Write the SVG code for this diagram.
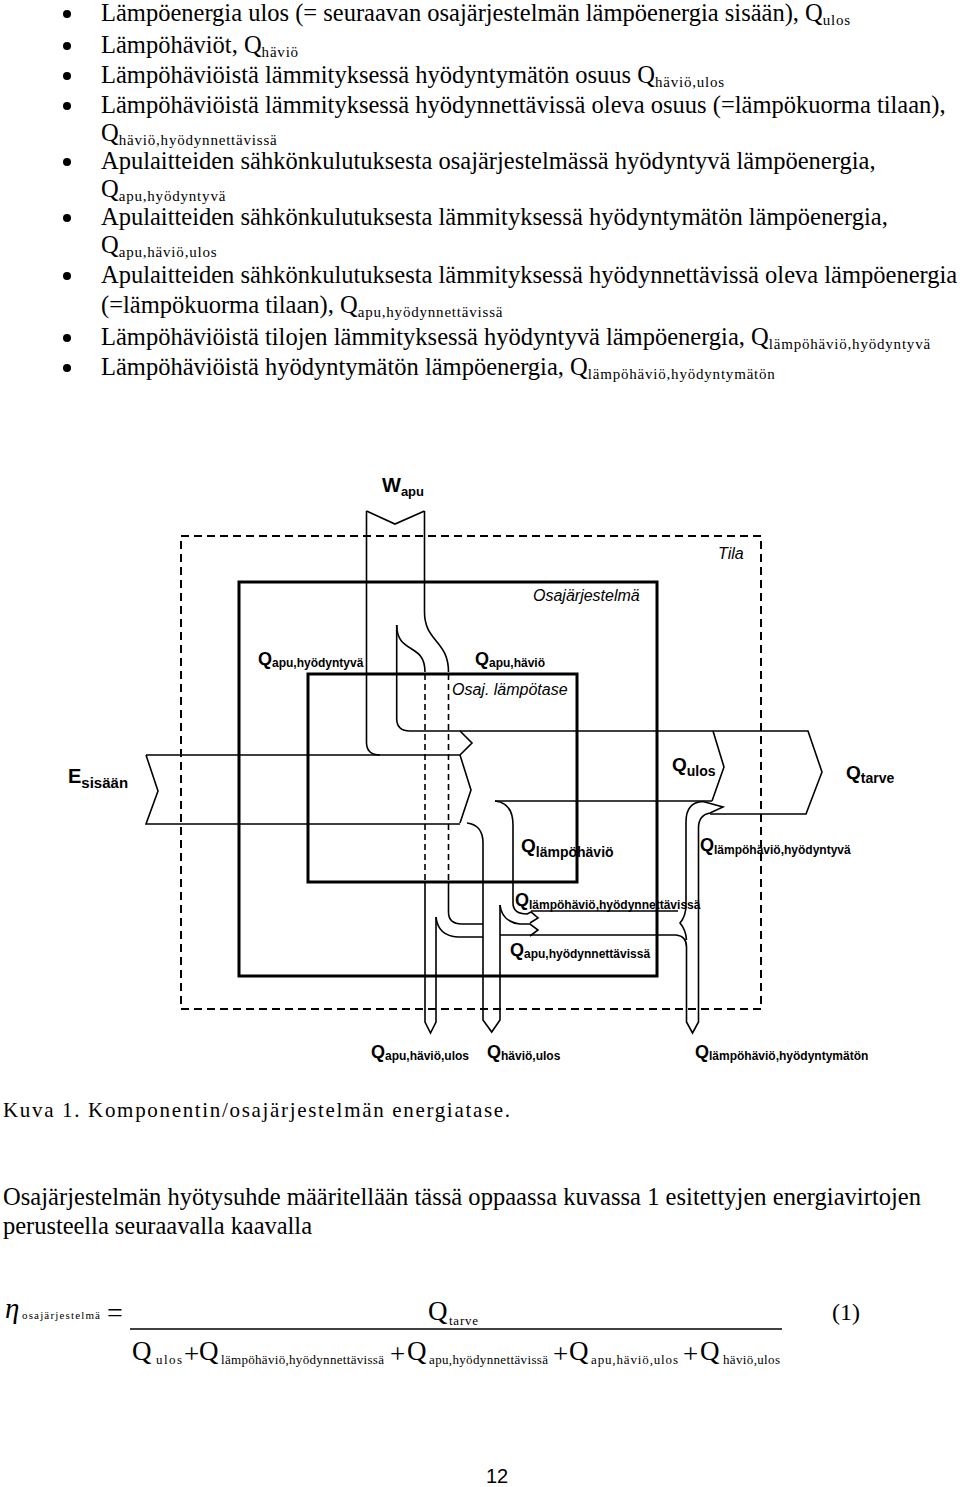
<svg xmlns="http://www.w3.org/2000/svg" width="960" height="1487" viewBox="0 0 960 1487">
<style>
.t{font-family:"Liberation Serif","Times New Roman",serif;font-size:24.5px;fill:#000}
.s{font-size:15px;letter-spacing:0.8px}
.b{font-family:"Liberation Sans",Arial,sans-serif;font-weight:bold;fill:#000}
.i{font-family:"Liberation Sans",Arial,sans-serif;font-style:italic;font-size:16px;fill:#000}
.e{font-family:"Liberation Serif","Times New Roman",serif;fill:#000}
.ln{fill:none;stroke:#000;stroke-width:1.6}
.bx{fill:none;stroke:#000;stroke-width:3}
.ds{fill:none;stroke:#000;stroke-width:2;stroke-dasharray:8 5}
.dl{fill:none;stroke:#000;stroke-width:1.6;stroke-dasharray:6 4}
</style>
<rect width="960" height="1487" fill="#fff"/>
<g id="bullets">
<circle cx="67" cy="14" r="4"/><circle cx="67" cy="46" r="4"/><circle cx="67" cy="76" r="4"/><circle cx="67" cy="106" r="4"/><circle cx="67" cy="162" r="4"/><circle cx="67" cy="218" r="4"/><circle cx="67" cy="276" r="4"/><circle cx="67" cy="338" r="4"/><circle cx="67" cy="368" r="4"/>
</g>
<g id="list" class="t">
<text x="101" y="21">Lämpöenergia ulos (= seuraavan osajärjestelmän lämpöenergia sisään), Q<tspan class="s" dy="4">ulos</tspan></text>
<text x="101" y="53">Lämpöhäviöt, Q<tspan class="s" dy="4">häviö</tspan></text>
<text x="101" y="83">Lämpöhäviöistä lämmityksessä hyödyntymätön osuus Q<tspan class="s" dy="4">häviö,ulos</tspan></text>
<text x="101" y="113">Lämpöhäviöistä lämmityksessä hyödynnettävissä oleva osuus (=lämpökuorma tilaan),</text>
<text x="101" y="141">Q<tspan class="s" dy="4">häviö,hyödynnettävissä</tspan></text>
<text x="101" y="169">Apulaitteiden sähkönkulutuksesta osajärjestelmässä hyödyntyvä lämpöenergia,</text>
<text x="101" y="197">Q<tspan class="s" dy="4">apu,hyödyntyvä</tspan></text>
<text x="101" y="225">Apulaitteiden sähkönkulutuksesta lämmityksessä hyödyntymätön lämpöenergia,</text>
<text x="101" y="253">Q<tspan class="s" dy="4">apu,häviö,ulos</tspan></text>
<text x="101" y="283">Apulaitteiden sähkönkulutuksesta lämmityksessä hyödynnettävissä oleva lämpöenergia</text>
<text x="101" y="313">(=lämpökuorma tilaan), Q<tspan class="s" dy="4">apu,hyödynnettävissä</tspan></text>
<text x="101" y="345">Lämpöhäviöistä tilojen lämmityksessä hyödyntyvä lämpöenergia, Q<tspan class="s" dy="4">lämpöhäviö,hyödyntyvä</tspan></text>
<text x="101" y="375">Lämpöhäviöistä hyödyntymätön lämpöenergia, Q<tspan class="s" dy="4">lämpöhäviö,hyödyntymätön</tspan></text>
</g>
<g id="tila">
<rect class="ds" x="181" y="536" width="580" height="473"/>
<text class="i" x="718" y="559">Tila</text>
</g>
<g id="osajarjestelma">
<rect class="bx" x="239" y="582" width="418" height="394"/>
<text class="i" x="533" y="601">Osajärjestelmä</text>
</g>
<g id="lampotase">
<rect class="bx" x="308" y="674" width="269" height="208"/>
<text class="i" x="452" y="695">Osaj. lämpötase</text>
</g>
<g id="connectors">
<path class="ln" d="M366.5,511 L395,524 L424.5,511"/>
<path class="ln" d="M366.5,511 V743 Q367,755 380,755"/>
<path class="ln" d="M424.5,511 V612 C424.5,642 448.5,640 448.5,672"/>
<path class="ln" d="M396.7,625 V719 Q397,731 410,731 H808 L822,772 L806,814 H710"/>
<path class="ln" d="M396.7,625 C397,655 425,642 425,672"/>
<path class="dl" d="M425,674 V882 M448.5,674 V882"/>
<path class="ln" d="M146,755 H460 M146,755 L158,791 L146,824 H460"/>
<path class="ln" d="M460,755 L471,790 L460,823"/>
<path class="ln" d="M460,731 L472,743 L460,755"/>
<path class="ln" d="M713,731 L724,767 L712,801"/>
<path class="ln" d="M495,801 H712"/>
<path class="ln" d="M467,823 Q483,825 483,843 V1020 L491.7,1032 L500,1020 V905"/>
<path class="ln" d="M495,801 Q513,803 513,825 V903 Q513,914 527,914 L531,912 L538,918 L530,923"/>
<path class="ln" d="M500,905 Q502,922 520,924 H530 L538,930 L530,936"/>
<path class="ln" d="M425,882 V1022 L430.5,1033 L436,1022 V917"/>
<path class="ln" d="M436,917 Q438,936 458,937 H483"/>
<path class="ln" d="M448.5,882 V912 Q448.5,924 462,924 H483"/>
<path class="ln" d="M531,911 H678"/>
<path class="ln" d="M500,935 H676 Q686.5,936 686.5,947 V1022 L692.5,1033 L698.5,1022 V828 Q698.5,815 710,813 L723,807 L703,801.5 Q686,802 686,822 V905 Q686,916 680,923 Q686,930 686.5,940"/>
</g>
<g id="labels">
<text class="b" x="382" y="492" font-size="20">W<tspan font-size="13" dy="4">apu</tspan></text>
<text class="b" x="258" y="665" font-size="18">Q<tspan font-size="12" dy="2">apu,hyödyntyvä</tspan></text>
<text class="b" x="475" y="665" font-size="18">Q<tspan font-size="12" dy="2">apu,häviö</tspan></text>
<text class="b" x="68" y="783" font-size="20">E<tspan font-size="15" dy="5">sisään</tspan></text>
<text class="b" x="672" y="771" font-size="19">Q<tspan font-size="14" dy="5">ulos</tspan></text>
<text class="b" x="846" y="779" font-size="19">Q<tspan font-size="14" dy="4">tarve</tspan></text>
<text class="b" x="521" y="852" font-size="19">Q<tspan font-size="14" dy="5">lämpöhäviö</tspan></text>
<text class="b" x="700" y="851" font-size="18">Q<tspan font-size="12" dy="3">lämpöhäviö,hyödyntyvä</tspan></text>
<text class="b" x="515" y="906" font-size="18">Q<tspan font-size="12" dy="3">lämpöhäviö,hyödynnettävissä</tspan></text>
<text class="b" x="510" y="956" font-size="18">Q<tspan font-size="12" dy="2">apu,hyödynnettävissä</tspan></text>
<text class="b" x="371" y="1058" font-size="18">Q<tspan font-size="12" dy="2">apu,häviö,ulos</tspan></text>
<text class="b" x="487" y="1058" font-size="18">Q<tspan font-size="12" dy="2">häviö,ulos</tspan></text>
<text class="b" x="695" y="1058" font-size="18">Q<tspan font-size="12" dy="2">lämpöhäviö,hyödyntymätön</tspan></text>
</g>
<g id="caption" class="t">
<text x="3" y="1117" font-size="21" textLength="507" lengthAdjust="spacing">Kuva 1. Komponentin/osajärjestelmän energiatase.</text>
<text x="3" y="1205" textLength="918" lengthAdjust="spacing">Osajärjestelmän hyötysuhde määritellään tässä oppaassa kuvassa 1 esitettyjen energiavirtojen</text>
<text x="3" y="1234" textLength="309" lengthAdjust="spacing">perusteella seuraavalla kaavalla</text>
</g>
<g id="equation" class="e">
<text x="5" y="1318" font-size="29" font-style="italic">η</text>
<text x="22" y="1319" font-size="11" textLength="78" lengthAdjust="spacing">osajärjestelmä</text>
<text x="107" y="1322" font-size="28">=</text>
<line x1="130" y1="1329" x2="782" y2="1329" stroke="#000" stroke-width="1.5"/>
<text x="428" y="1320" font-size="27">Q</text>
<text x="449" y="1325" font-size="13" textLength="29" lengthAdjust="spacing">tarve</text>
<text x="132" y="1360" font-size="27">Q</text>
<text x="156" y="1364" font-size="13" textLength="26" lengthAdjust="spacing">ulos</text>
<text x="184" y="1363" font-size="27">+</text>
<text x="199" y="1360" font-size="27">Q</text>
<text x="221" y="1364" font-size="13" textLength="163" lengthAdjust="spacing">lämpöhäviö,hyödynnettävissä</text>
<text x="390" y="1363" font-size="27">+</text>
<text x="407" y="1360" font-size="27">Q</text>
<text x="429" y="1364" font-size="13" textLength="119" lengthAdjust="spacing">apu,hyödynnettävissä</text>
<text x="553" y="1363" font-size="27">+</text>
<text x="569" y="1360" font-size="27">Q</text>
<text x="591" y="1364" font-size="13" textLength="87" lengthAdjust="spacing">apu,häviö,ulos</text>
<text x="683" y="1363" font-size="27">+</text>
<text x="700" y="1360" font-size="27">Q</text>
<text x="723" y="1364" font-size="13" textLength="57" lengthAdjust="spacing">häviö,ulos</text>
<text x="832" y="1320" font-size="24">(1)</text>
</g>
<g id="page">
<text x="486" y="1483" font-family="Liberation Sans, Arial, sans-serif" font-size="20">12</text>
</g>
</svg>
